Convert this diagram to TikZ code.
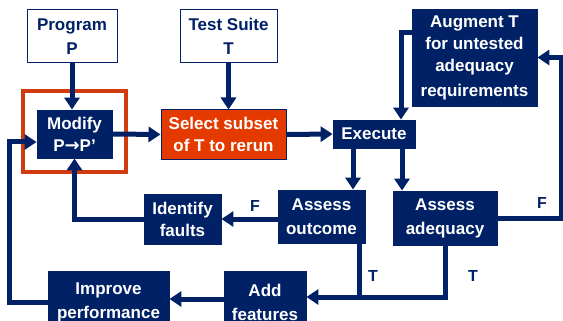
\documentclass[tikz,border=0pt]{standalone}
\usepackage{fontspec}
\setmainfont{Liberation Sans}
\newfontfamily\arrfont{DejaVu Sans}
\usetikzlibrary{arrows.meta,calc}
\definecolor{navy}{RGB}{0,33,102}
\definecolor{redfill}{RGB}{228,58,0}
\definecolor{redframe}{RGB}{208,60,16}
\begin{document}
\begin{tikzpicture}[x=1pt,y=-1pt,
  txt/.style={font=\bfseries\fontsize{17}{22}\selectfont,align=center,inner sep=0pt},
  box/.style={txt,fill=navy,draw=navy,line width=0.8pt,text=white},
  wbox/.style={txt,fill=white,draw=navy,line width=1pt,text=navy},
  rbox/.style={txt,fill=redfill,draw=navy,line width=1pt,text=white},
  conn/.style={draw=navy,line width=5pt},
  arr/.style={conn,-{Triangle[width=15pt,length=12pt]}},
  lab/.style={text=navy,font=\bfseries\fontsize{16}{16}\selectfont,inner sep=0pt}]
\useasboundingbox (0,0) rectangle (563,321);
\clip (0,0) rectangle (563,321);

% red frame
\draw[redframe,line width=4pt] (23,91) rectangle (126,172);

\node[wbox,minimum width=90pt,minimum height=53pt] (program) at (72,36.5) {Program\\[2pt]P};
\node[wbox,minimum width=97pt,minimum height=53pt] (test) at (228.5,36.5) {Test Suite\\[2pt]T};
\node[box,minimum width=75pt,minimum height=48pt] (modify) at (74.5,134) {Modify\\P{\arrfont\bfseries\fontsize{18}{22}\selectfont →}P’};
\node[rbox,minimum width=125pt,minimum height=49pt] (select) at (223.5,134.5) {Select subset\\of T to rerun};
\node[box,minimum width=82pt,minimum height=28pt] (execute) at (374,134) {Execute};
\node[box,minimum width=125pt,minimum height=97pt] (augment) at (474.5,57.5) {Augment T\\for untested\\adequacy\\[3pt]requirements};
\node[box,minimum width=87pt,minimum height=53pt] (outcome) at (321.5,216.5) {Assess\\[2pt]outcome};
\node[box,minimum width=104pt,minimum height=54pt] (adequacy) at (445,218) {Assess\\[2pt]adequacy};
\node[box,minimum width=77pt,minimum height=50pt] (identify) at (182.5,219) {Identify\\faults};
\node[box,minimum width=82pt,minimum height=63pt] (add) at (265,302.5) {Add\\[2pt]features};
\node[box,minimum width=121pt,minimum height=63pt] (improve) at (108.5,302.5) {Improve\\[2pt]performance};

\coordinate (j) at (359,297);
\coordinate (ai) at (0,299);
\coordinate (lft) at (9,142);

\draw[arr] (program.south) -- (program.south |- modify.north);
\draw[arr] (test.south) -- (test.south |- select.north);
\draw[arr] (modify.east) -- (select.west);
\draw[arr] (select.east) -- (execute.west);
\draw[arr] ($(augment.north west)+(0,24)$) -| ([xshift=27pt]execute.north);
\draw[arr] ([xshift=-21pt]execute.south) -- ([xshift=-21pt]execute.south |- outcome.north);
\draw[arr] ([xshift=28pt]execute.south) -- ([xshift=28pt]execute.south |- adequacy.north);
\draw[arr] (identify.east -| outcome.west) -- (identify.east);
\draw[arr] (identify.west) -| (modify.south);
\draw[arr] (adequacy.east) -- ++(64,0) |- (augment.east);
\draw[conn] ([xshift=37.5pt]outcome.south) -- (j);
\draw[arr] (j) -- (j -| add.east);
\draw[conn] (adequacy.south) |- (j);
\draw[arr] (add.west |- ai) -- (improve.east |- ai);
\draw[arr] (improve.west) -| (lft) -- (modify.west |- lft);

\node[lab] (f1) at (255,206) {F};
\node[lab] (f2) at (542,203) {F};
\node[lab] (t1) at (373,276) {T};
\node[lab] (t2) at (473,276) {T};
\end{tikzpicture}
\end{document}
